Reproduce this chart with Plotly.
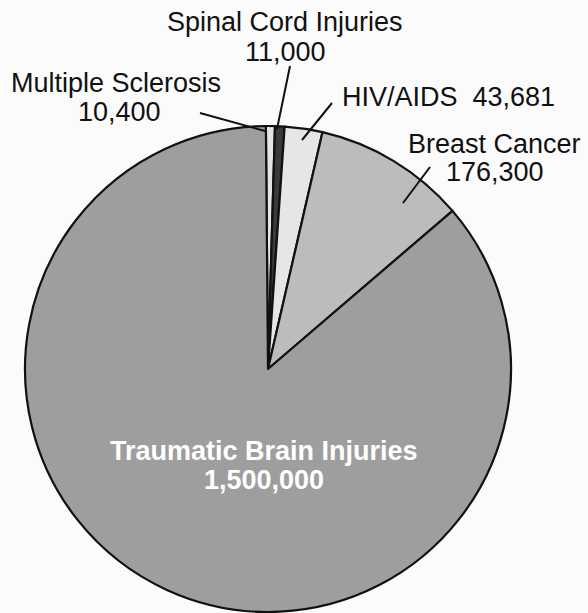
import plotly.graph_objects as go

# ---- data ----
categories = ["Multiple Sclerosis", "Spinal Cord Injuries", "HIV/AIDS",
              "Breast Cancer", "Traumatic Brain Injuries"]
values = [10400, 11000, 43681, 176300, 1500000]
value_labels = ["10,400", "11,000", "43,681", "176,300", "1,500,000"]

colors = ["#e4e4e4", "#3a3a3a", "#e6e6e6", "#bcbcbc", "#9e9e9e"]

W, H = 588, 613


def px(x):
    return x / W


def py(y):
    return 1 - y / H


cx, cy, R = 268, 369, 243

fig = go.Figure()
fig.add_trace(go.Pie(
    labels=categories,
    values=values,
    sort=False,
    direction="clockwise",
    rotation=-0.5,
    textinfo="none",
    hoverinfo="label+value",
    marker=dict(colors=colors, line=dict(color="#111111", width=2.2)),
    domain=dict(x=[px(cx - R), px(cx + R)], y=[py(cy + R), py(cy - R)]),
    showlegend=False,
))

FONT = "Liberation Sans, Arial, Helvetica, sans-serif"
fs = 27

ann = []


def label(text, x, y, color="#111111", bold=False):
    ann.append(dict(
        text=("<b>%s</b>" % text) if bold else text,
        x=px(x), y=py(y), xref="paper", yref="paper",
        xanchor="center", yanchor="middle", showarrow=False,
        font=dict(family=FONT, size=fs, color=color),
    ))


# outer labels (name line + value line)
label(categories[1], 285, 22)
label(value_labels[1], 285, 52)
label(categories[0], 116, 83)
label(value_labels[0], 119, 112)
ann.append(dict(
    text=categories[2] + "  " + value_labels[2],
    x=px(340), y=py(97), xref="paper", yref="paper",
    xanchor="left", yanchor="middle", showarrow=False,
    font=dict(family=FONT, size=fs, color="#111111"),
))
label(categories[3], 494, 144)
label(value_labels[3], 495, 172)

# inside label for the large slice
label(categories[4], 264, 451, color="white", bold=True)
label(value_labels[4], 264, 480, color="white", bold=True)

# leader lines
leaders = [
    ((200, 113), (265, 131)),
    ((290, 66), (277, 129)),
    ((332, 103), (302, 140)),
    ((430, 167), (403, 203)),
]
shapes = []
for (x0, y0), (x1, y1) in leaders:
    shapes.append(dict(type="line", xref="paper", yref="paper",
                       x0=px(x0), y0=py(y0), x1=px(x1), y1=py(y1),
                       line=dict(color="#111111", width=2)))

fig.update_layout(
    width=W, height=H,
    margin=dict(l=0, r=0, t=0, b=0),
    paper_bgcolor="#fbfbfb",
    plot_bgcolor="#fbfbfb",
    annotations=ann,
    shapes=shapes,
)

fig.write_html("out.html",
               config={"displayModeBar": False},
               post_script="document.body.style.margin='0px';"
                           "document.body.style.overflow='hidden';")
